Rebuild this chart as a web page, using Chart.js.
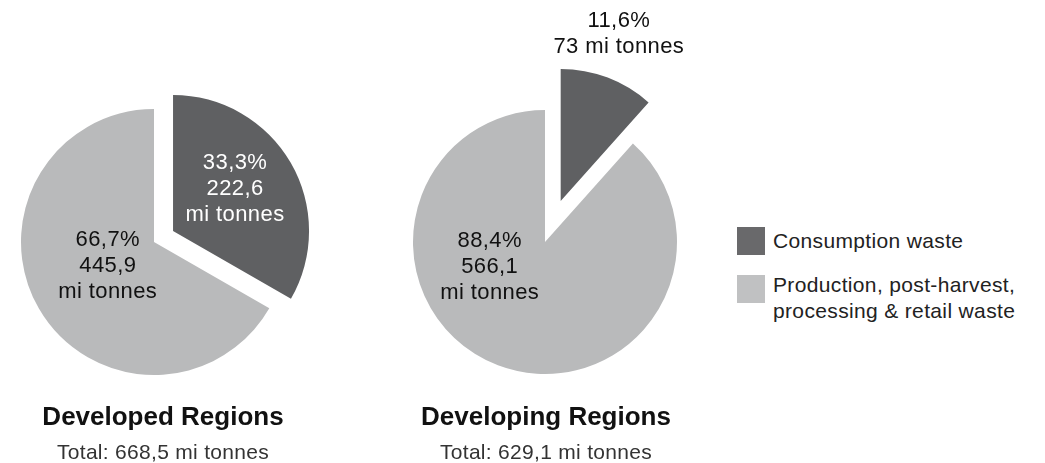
<!DOCTYPE html>
<html><head><meta charset="utf-8">
<script src="https://cdn.jsdelivr.net/npm/chart.js@4/dist/chart.umd.min.js"></script>
<style>
html,body{margin:0;padding:0;background:#fff;width:1045px;height:463px;overflow:hidden;font-family:"Liberation Sans",Arial,sans-serif;}
.wrap{position:absolute;top:0;height:463px;}
#w1{left:0;width:330px;}
#w2{left:380px;width:340px;}
.title{position:absolute;width:400px;text-align:center;font-weight:bold;font-size:26px;line-height:30px;color:#111;}
.sub{position:absolute;width:400px;text-align:center;font-size:21px;line-height:24px;color:#333;letter-spacing:0.3px;}
.sw{position:absolute;left:737px;width:28px;height:28px;}
.lt{position:absolute;left:773px;font-size:21px;line-height:26px;color:#222;white-space:nowrap;letter-spacing:0.35px;}
</style>
</head><body>
<div class="wrap" id="w1"><canvas id="c1"></canvas></div>
<div class="wrap" id="w2"><canvas id="c2"></canvas></div>
<div class="title" id="t1" style="left:-37px;top:401px;"></div>
<div class="sub" id="s1" style="left:-37px;top:440px;"></div>
<div class="title" id="t2" style="left:346px;top:401px;"></div>
<div class="sub" id="s2" style="left:346px;top:440px;"></div>
<div class="sw" id="sw0" style="top:227px;"></div>
<div class="lt" id="lt0" style="top:228px;"></div>
<div class="sw" id="sw1" style="top:275px;"></div>
<div class="lt" id="lt1" style="top:272px;"></div>
<script>
// ---- data ----
const categories = ['Consumption waste', 'Production, post-harvest, processing & retail waste'];
const legendLines = [['Consumption waste'], ['Production, post-harvest,', 'processing & retail waste']];
const regions = ['Developed Regions', 'Developing Regions'];
const totals = ['Total: 668,5 mi tonnes', 'Total: 629,1 mi tonnes'];
const developedShare = [33.3, 66.7];
const developingShare = [11.6, 88.4];
const developedPctLabels = ['33,3%', '66,7%'];
const developingPctLabels = ['11,6%', '88,4%'];
const developedTonnes = ['222,6', '445,9'];
const developingTonnes = ['73', '566,1'];
const colors = ['#5f6062', '#b9babb'];
const legendColors = ['#69696b', '#c0c1c2'];

// ---- HTML texts ----
document.getElementById('t1').textContent = regions[0];
document.getElementById('t2').textContent = regions[1];
document.getElementById('s1').textContent = totals[0];
document.getElementById('s2').textContent = totals[1];
for (let i = 0; i < 2; i++) {
  document.getElementById('sw' + i).style.background = legendColors[i];
  document.getElementById('lt' + i).innerHTML = legendLines[i].join('<br>');
}

// ---- plugins ----
const explode = {
  id: 'explode',
  afterDatasetUpdate(chart, args, opts) {
    args.meta.data.forEach((arc, i) => {
      const d = opts.distances[i] || 0;
      const mid = (arc.startAngle + arc.endAngle) / 2;
      arc.x += Math.cos(mid) * d;
      arc.y += Math.sin(mid) * d;
      arc.outerRadius += (opts.grow[i] || 0);
    });
  }
};
const sliceLabels = {
  id: 'sliceLabels',
  afterDatasetsDraw(chart, args, opts) {
    const ctx = chart.ctx;
    const meta = chart.getDatasetMeta(0);
    meta.data.forEach((arc, i) => {
      const lines = opts.lines[i];
      const ang = opts.angles[i] * Math.PI / 180;
      const r = arc.outerRadius * opts.fracs[i];
      const cx = arc.x + Math.cos(ang) * r, cy = arc.y + Math.sin(ang) * r;
      ctx.save();
      ctx.font = '22px "Liberation Sans", Arial, sans-serif';
      if ('letterSpacing' in ctx) ctx.letterSpacing = '0.4px';
      ctx.fillStyle = opts.colors[i];
      ctx.textAlign = 'center';
      ctx.textBaseline = 'middle';
      const lh = 26, n = lines.length;
      lines.forEach((t, k) => ctx.fillText(t, cx, cy + (k - (n - 1) / 2) * lh));
      ctx.restore();
    });
  }
};

function makePie(id, share, radius, pad, explodeOpts, labelOpts) {
  return new Chart(document.getElementById(id), {
    type: 'pie',
    data: { labels: categories, datasets: [{ data: share, backgroundColor: colors, borderWidth: 0, clip: false }] },
    options: {
      responsive: true, maintainAspectRatio: false, animation: false, events: [],
      radius: radius,
      layout: { padding: pad },
      plugins: { legend: { display: false }, tooltip: { enabled: false },
        explode: explodeOpts, sliceLabels: labelOpts }
    },
    plugins: [explode, sliceLabels]
  });
}

makePie('c1', developedShare, 133, { left: 0, right: 22, top: 21, bottom: 0 },
  { distances: [22, 0], grow: [3, 0] },
  { lines: [[developedPctLabels[0], developedTonnes[0], 'mi tonnes'], [developedPctLabels[1], developedTonnes[1], 'mi tonnes']],
    angles: [-34, 153], fracs: [0.55, 0.39], colors: ['#ffffff', '#111111'] });

makePie('c2', developingShare, 132, { left: 0, right: 10, top: 21, bottom: 0 },
  { distances: [44, 0], grow: [0, 0] },
  { lines: [[developingPctLabels[0], developingTonnes[0] + ' mi tonnes'], [developingPctLabels[1], developingTonnes[1], 'mi tonnes']],
    angles: [-70.8, 155.6], fracs: [1.34, 0.46], colors: ['#111111', '#111111'] });
</script>
</body></html>
